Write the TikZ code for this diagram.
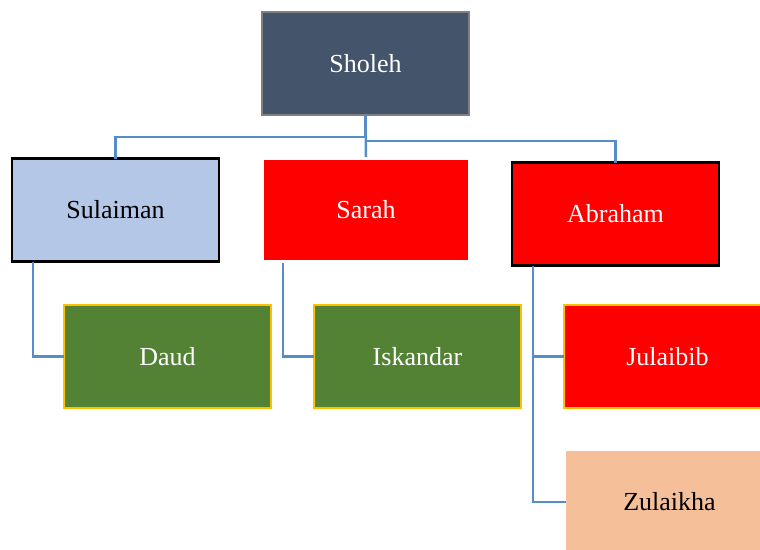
\documentclass[tikz,border=0pt]{standalone}
\usepackage{fontspec}
\setmainfont{Liberation Serif}
\usepackage{tikz}
\usetikzlibrary{positioning, calc}
\definecolor{slate}{HTML}{44546A}
\definecolor{paleblue}{HTML}{B4C7E7}
\definecolor{leaf}{HTML}{548235}
\definecolor{gold}{HTML}{FFC000}
\definecolor{peach}{HTML}{F4BF99}
\definecolor{linkblue}{RGB}{84,141,200}
\tikzstyle{box} = [rectangle, minimum width=207pt, minimum height=103pt, inner sep=0pt, outer sep=0pt, font=\fontsize{26}{30}\selectfont]
\tikzstyle{link} = [line width=2.5pt, draw=linkblue]

\begin{document}
\begin{tikzpicture}[x=1pt, y=-1pt]
            \useasboundingbox (0,0) rectangle (760,549);
            % top
            \node[box, fill=slate, draw=gray, line width=2pt, text=white] at (365.5,63.5) (sholeh) {Sholeh};
            % second row
            \node[box, fill=paleblue, draw=black, line width=2.5pt] at (115.5,210) (sulaiman) {Sulaiman};
            \node[box, fill=red, minimum width=204pt, minimum height=100pt, text=white] at (366,210) (sarah) {Sarah};
            \node[box, fill=red, draw=black, line width=2.5pt, text=white] at (615.5,214) (abraham) {Abraham};
            % third row
            \node[box, fill=leaf, draw=gold, line width=2.5pt, text=white] at (167.5,356.5) (daud) {Daud};
            \node[box, fill=leaf, draw=gold, line width=2.5pt, text=white] at (417.5,356.5) (iskandar) {Iskandar};
            \node[box, fill=red, draw=gold, line width=2.5pt, text=white] at (667.5,356.5) (julaibib) {Julaibib};
            \node[box, fill=peach] at (669.5,502) (zulaikha) {Zulaikha};

            \draw[link] (sholeh.south) -- ++(0,22) -| (sulaiman.north);
            \draw[link] (sholeh.south) ++(0,26) -| (abraham.north);
            \draw[link] (sholeh.south) -- ([yshift=3pt]sarah.north);

            \draw[link] ([xshift=21pt]sulaiman.south west) |- (daud.west);
            \draw[link] ([xshift=19pt, yshift=-3pt]sarah.south west) |- (iskandar.west);
            \draw[link] ([xshift=21pt]abraham.south west) |- (julaibib.west);
            \draw[link] ([xshift=21pt]abraham.south west) |- (zulaikha.west);
          \end{tikzpicture}
\end{document}
